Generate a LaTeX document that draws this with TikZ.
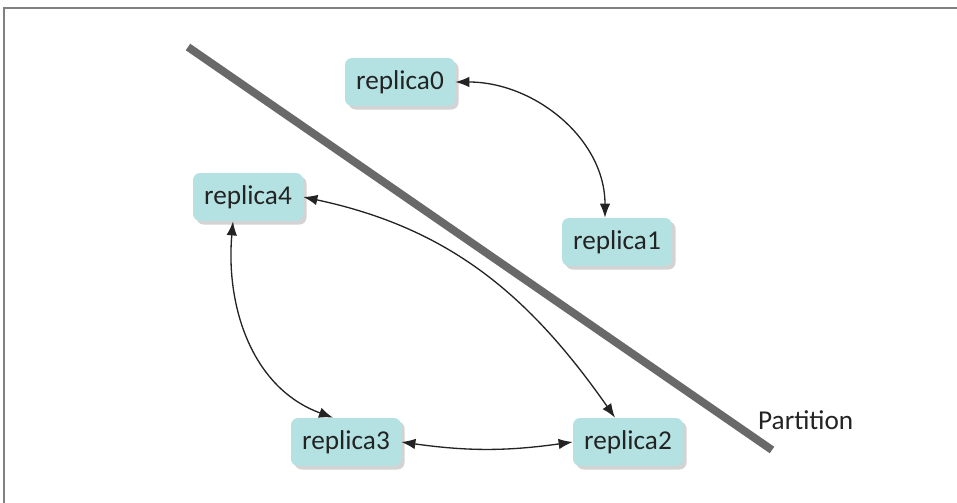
\documentclass[tikz,border=0pt]{standalone}
\usepackage{fontspec}
\setmainfont{Carlito}
\usetikzlibrary{shadows,arrows.meta}
\definecolor{boxcyan}{RGB}{180,226,226}
\definecolor{wallgray}{RGB}{105,105,105}
\definecolor{inkgray}{RGB}{35,35,35}

\begin{document}
\begin{tikzpicture}[
  x=0.02cm, y=-0.02cm,
  replica/.style={rectangle, rounded corners=4pt, fill=boxcyan,
    minimum width=2.2cm, minimum height=0.96cm, text=inkgray,
    font=\fontsize{15.5}{18}\selectfont,
    drop shadow={shadow xshift=2pt, shadow yshift=-2pt, opacity=0.35}},
  link/.style={{Latex[length=8pt,width=6pt]}-{Latex[length=8pt,width=6pt]}, inkgray, line width=0.75pt}
]
\useasboundingbox (0,0) rectangle (957,503);
\draw[gray, line width=1.2pt] (4,503) -- (4,8) -- (957,8);

% the partition
\coordinate (p1) at (188,47);
\coordinate (p2) at (772,450);
\draw[wallgray, line width=4.5pt] (p1) -- (p2);
\node[anchor=west, text=inkgray, font=\fontsize{15.5}{18}\selectfont] (part) at (752,420) {Partition};

\node[replica] (r0) at (400,82) {replica0};
\node[replica] (r1) at (617,242) {replica1};
\node[replica] (r4) at (248,197) {replica4};
\node[replica] (r3) at (346,442) {replica3};
\node[replica] (r2) at (628,442) {replica2};

\draw[link] (r0.east) to[out=0, in=90] ([xshift=-0.24cm]r1.north);
\draw[link] (r4.east) to[out=-12, in=125] ([xshift=-0.26cm]r2.north);
\draw[link] ([xshift=-0.3cm]r4.south) to[out=-95, in=160] ([xshift=-0.26cm]r3.north);
\draw[link] (r3.east) to[out=-8, in=188] (r2.west);
\end{tikzpicture}
\end{document}
